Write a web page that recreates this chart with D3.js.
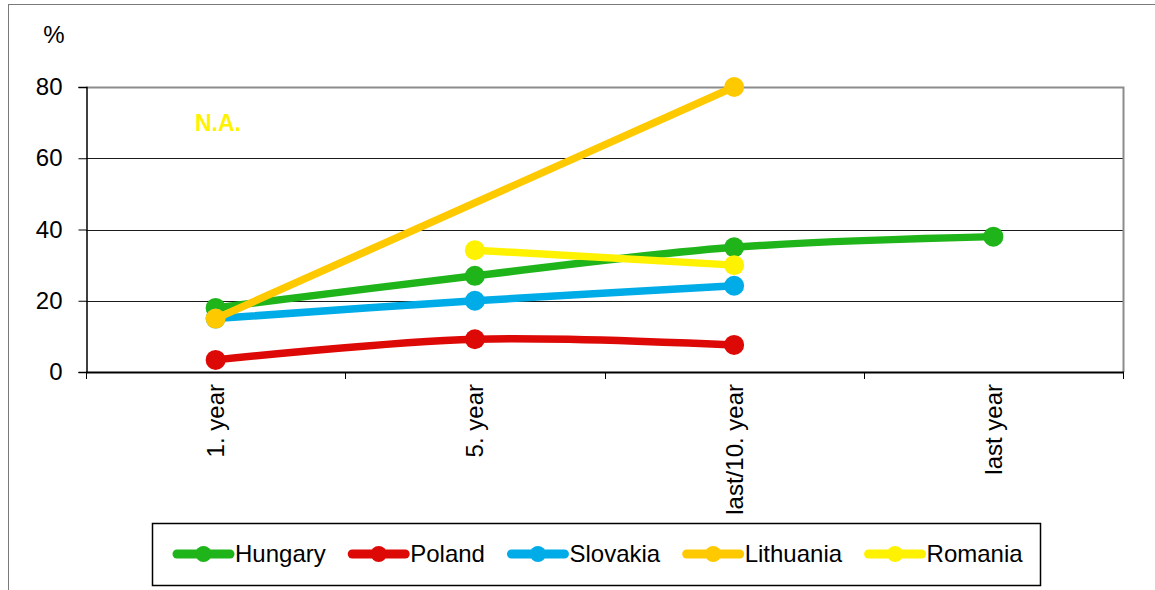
<!DOCTYPE html>
<html>
<head>
<meta charset="utf-8">
<script src="https://cdn.jsdelivr.net/npm/d3@7"></script>
<style>
  html, body { margin: 0; padding: 0; background: #fff; }
  svg { display: block; font-family: Arial, "Liberation Sans", sans-serif; }
</style>
</head>
<body>
<svg id="chart" width="1155" height="590"></svg>
<script>
// ---- data ----
const categories = ["1. year", "5. year", "last/10. year", "last year"];
const seriesNames = ["Hungary", "Poland", "Slovakia", "Lithuania", "Romania"];
const hungary   = [18, 27, 35, 38];
const poland    = [3.4, 9.2, 7.6, null];
const slovakia  = [15, 20, 24.2, null];
const lithuania = [15, null, 80, null];
const romania   = [null, 34.2, 30, null];
const seriesColors = ["#1FB41A", "#DD0906", "#00ACE8", "#FFC900", "#FFF200"];
const yTicks = [0, 20, 40, 60, 80];
const yUnit = "%";
const naNote = "N.A.";

const seriesValues = [hungary, poland, slovakia, lithuania, romania];

// ---- layout ----
const svg = d3.select("#chart");
const W = 1155, H = 590;
const plot = { left: 86, right: 1123, top: 87, bottom: 372 };
const fontSize = 24;

// outer frame (top and left visible)
svg.append("line").attr("x1", 8).attr("x2", W).attr("y1", 4.5).attr("y2", 4.5)
  .attr("stroke", "#7a7a7a").attr("stroke-width", 1);
svg.append("line").attr("x1", 8.5).attr("x2", 8.5).attr("y1", 4).attr("y2", H)
  .attr("stroke", "#7a7a7a").attr("stroke-width", 1);

const x = d3.scaleBand().domain(categories).range([plot.left, plot.right]).padding(0);
const y = d3.scaleLinear().domain([0, 80]).range([plot.bottom, plot.top]);
const cx = c => x(c) + x.bandwidth() / 2;

// gridlines
svg.append("g").selectAll("line")
  .data(yTicks.filter(t => t > 0 && t < 80))
  .join("line")
  .attr("x1", plot.left).attr("x2", plot.right)
  .attr("y1", d => Math.round(y(d)) + 0.5).attr("y2", d => Math.round(y(d)) + 0.5)
  .attr("stroke", "#1a1a1a").attr("stroke-width", 1);

// plot border top/right (gray)
svg.append("path")
  .attr("d", `M${plot.left},${plot.top + 0.5}H${plot.right + 0.5}V${plot.bottom}`)
  .attr("fill", "none").attr("stroke", "#8c8c8c").attr("stroke-width", 2);

// y axis
const yAxis = d3.axisLeft(y).tickValues(yTicks).tickSize(8).tickPadding(16)
  .tickFormat(d3.format("d"));
const gy = svg.append("g").attr("transform", `translate(${plot.left + 0.5},0)`).call(yAxis);
gy.select(".domain").attr("stroke", "#000").attr("stroke-width", 1.5);
gy.selectAll(".tick line").attr("stroke", "#000");
gy.selectAll(".tick text").attr("font-size", fontSize).attr("fill", "#000")
  .attr("font-family", "Arial, 'Liberation Sans', sans-serif");

// x axis: ticks at band boundaries
svg.append("line").attr("x1", plot.left).attr("x2", plot.right + 1)
  .attr("y1", plot.bottom + 0.5).attr("y2", plot.bottom + 0.5)
  .attr("stroke", "#000").attr("stroke-width", 2);
const boundaries = categories.map(c => x(c) + x.bandwidth()).concat([x(categories[0])]);
svg.append("g").selectAll("line").data(boundaries).join("line")
  .attr("x1", d => Math.round(d) + 0.5).attr("x2", d => Math.round(d) + 0.5)
  .attr("y1", plot.bottom).attr("y2", plot.bottom + 7)
  .attr("stroke", "#000").attr("stroke-width", 1);

// x labels rotated
svg.append("g").selectAll("text").data(categories).join("text")
  .attr("transform", d => `translate(${cx(d)},${plot.bottom + 12}) rotate(-90)`)
  .attr("text-anchor", "end").attr("dy", "0.35em")
  .attr("font-size", fontSize).attr("fill", "#000")
  .text(d => d);

// unit label
svg.append("text").attr("x", 54).attr("y", 43).attr("text-anchor", "middle")
  .attr("font-size", fontSize).attr("fill", "#000").text(yUnit);

// N.A. note
svg.append("text").attr("x", 195).attr("y", 131)
  .attr("font-size", 23).attr("font-weight", "bold").attr("fill", "#FFF200").text(naNote);

// series
const lineGen = d3.line()
  .x(d => cx(d.cat)).y(d => y(d.v))
  .curve(d3.curveCardinal.tension(0));

seriesNames.forEach((name, i) => {
  const pts = categories.map((c, j) => ({ cat: c, v: seriesValues[i][j] }))
    .filter(p => p.v !== null && p.v !== undefined);
  const g = svg.append("g");
  g.append("path").attr("d", lineGen(pts))
    .attr("fill", "none").attr("stroke", seriesColors[i])
    .attr("stroke-width", 7.5).attr("stroke-linejoin", "round");
  g.selectAll("circle").data(pts).join("circle")
    .attr("cx", d => cx(d.cat)).attr("cy", d => y(d.v)).attr("r", 10)
    .attr("fill", seriesColors[i]);
});

// legend
const legend = { left: 152, top: 523, right: 1040, bottom: 585 };
svg.append("rect")
  .attr("x", legend.left + 0.5).attr("y", legend.top + 0.5)
  .attr("width", legend.right - legend.left).attr("height", legend.bottom - legend.top)
  .attr("fill", "#fff").attr("stroke", "#000").attr("stroke-width", 1.5);

let lx = 174;
const ly = 554;
seriesNames.forEach((name, i) => {
  const g = svg.append("g");
  g.append("line").attr("x1", lx + 3).attr("x2", lx + 56).attr("y1", ly).attr("y2", ly)
    .attr("stroke", seriesColors[i]).attr("stroke-width", 9).attr("stroke-linecap", "round");
  g.append("circle").attr("cx", lx + 29.5).attr("cy", ly).attr("r", 8).attr("fill", seriesColors[i]);
  const t = g.append("text").attr("x", lx + 61).attr("y", ly).attr("dy", "0.35em")
    .attr("font-size", fontSize).attr("fill", "#000").text(name);
  const w = t.node().getComputedTextLength();
  lx = lx + 61 + w + 23.5;
});
</script>
</body>
</html>
